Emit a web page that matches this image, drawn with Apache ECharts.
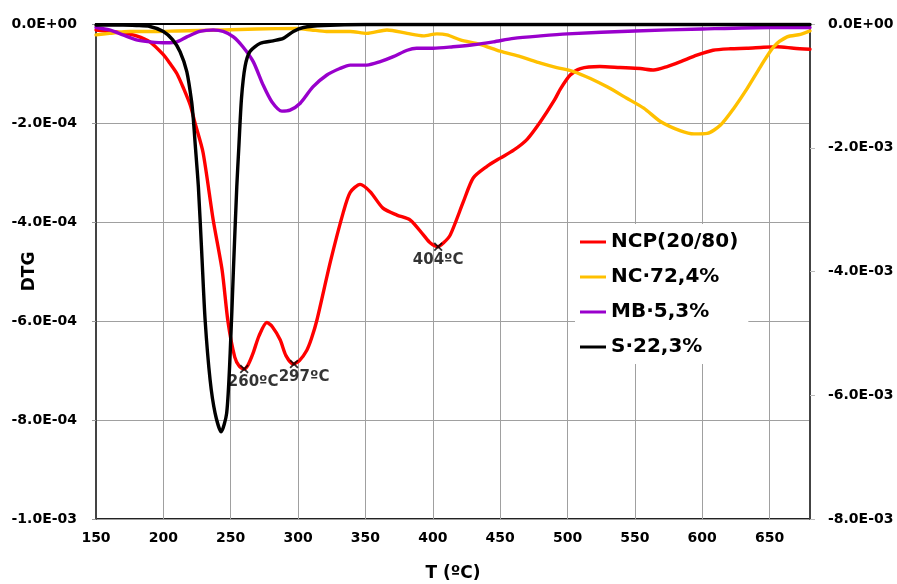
<!DOCTYPE html>
<html>
<head>
<meta charset="utf-8">
<script src="https://cdn.jsdelivr.net/npm/echarts@6/dist/echarts.min.js"></script>
<style>html,body{margin:0;padding:0;background:#fff;}#c{width:897px;height:584px;}</style>
</head>
<body>
<div id="c"></div>
<script>
// ---- data (T in ºC, DTG values) ----
var seriesNames = ['NCP(20/80)', 'NC·72,4%', 'MB·5,3%', 'S·22,3%'];

var ncpT = [150,160,170,180,190,200,205,210,215,220,223.5,229.5,237,243.6,248,253,256.5,260,263,266.6,271,276.8,281,286.7,291,296.4,301,306.5,310,314,324,333.6,338.7,346,353.6,363,373.4,383.3,393,398,403.6,408,413,422.7,430,440,450,460,470,480,490,495,502,509.6,524,539,554,564,574,584,596,608,621,633,645.6,655.7,668,680];
var ncpV = [-0.12e-4,-0.15e-4,-0.18e-4,-0.24e-4,-0.36e-4,-0.62e-4,-0.80e-4,-1.0e-4,-1.3e-4,-1.64e-4,-2.0e-4,-2.6e-4,-3.96e-4,-4.97e-4,-6.02e-4,-6.73e-4,-6.92e-4,-6.97e-4,-6.88e-4,-6.65e-4,-6.3e-4,-6.03e-4,-6.12e-4,-6.38e-4,-6.7e-4,-6.87e-4,-6.8e-4,-6.59e-4,-6.35e-4,-5.98e-4,-4.8e-4,-3.8e-4,-3.4e-4,-3.24e-4,-3.39e-4,-3.72e-4,-3.86e-4,-3.96e-4,-4.26e-4,-4.42e-4,-4.5e-4,-4.42e-4,-4.26e-4,-3.59e-4,-3.11e-4,-2.88e-4,-2.71e-4,-2.55e-4,-2.33e-4,-1.97e-4,-1.55e-4,-1.3e-4,-1.03e-4,-0.9e-4,-0.86e-4,-0.88e-4,-0.9e-4,-0.93e-4,-0.86e-4,-0.76e-4,-0.63e-4,-0.53e-4,-0.50e-4,-0.49e-4,-0.47e-4,-0.46e-4,-0.49e-4,-0.51e-4];

var ncT = [150,160,175,195,210,244,269,299,310,321,338.7,351,366,381,393,403,410.5,420.4,435,450,465,480,492,504.5,517,529.4,544,556.6,569,584,594,603.7,613.6,623.5,633.4,643.3,653,663,673,680];
var ncV = [-0.22e-4,-0.19e-4,-0.15e-4,-0.15e-4,-0.14e-4,-0.12e-4,-0.1e-4,-0.09e-4,-0.12e-4,-0.15e-4,-0.15e-4,-0.19e-4,-0.12e-4,-0.19e-4,-0.24e-4,-0.2e-4,-0.22e-4,-0.32e-4,-0.41e-4,-0.55e-4,-0.66e-4,-0.79e-4,-0.88e-4,-0.96e-4,-1.1e-4,-1.27e-4,-1.5e-4,-1.7e-4,-1.97e-4,-2.16e-4,-2.22e-4,-2.21e-4,-2.04e-4,-1.7e-4,-1.3e-4,-0.86e-4,-0.46e-4,-0.26e-4,-0.21e-4,-0.14e-4];

var mbT = [150,160,170,180,190,202.5,210,217.4,227,237,244.4,252,259,266.7,274,280.5,288,294,301.6,311,321.4,331,338.7,351,361,370.7,381,388,400.4,415,430,445,460,480,500,550,600,650,680];
var mbV = [-0.07e-4,-0.12e-4,-0.22e-4,-0.32e-4,-0.36e-4,-0.38e-4,-0.36e-4,-0.26e-4,-0.15e-4,-0.12e-4,-0.15e-4,-0.26e-4,-0.46e-4,-0.76e-4,-1.23e-4,-1.57e-4,-1.76e-4,-1.74e-4,-1.6e-4,-1.27e-4,-1.03e-4,-0.9e-4,-0.83e-4,-0.83e-4,-0.76e-4,-0.66e-4,-0.53e-4,-0.49e-4,-0.49e-4,-0.46e-4,-0.42e-4,-0.36e-4,-0.29e-4,-0.24e-4,-0.2e-4,-0.14e-4,-0.1e-4,-0.07e-4,-0.07e-4];

var sT = [150,170,180,190,200,207,212.4,217.4,221,222.3,223.5,226,228.5,231,234.7,238.4,242.9,247,249.6,252,254.5,256,258,260.7,264.4,272,281.5,289,296.5,304,318.7,350,400,500,600,680];
var sV = [-0.02e-4,-0.02e-4,-0.03e-4,-0.05e-4,-0.15e-4,-0.32e-4,-0.56e-4,-0.96e-4,-1.57e-4,-1.94e-4,-2.38e-4,-3.29e-4,-4.63e-4,-5.98e-4,-7.19e-4,-7.86e-4,-8.24e-4,-7.86e-4,-6.65e-4,-4.97e-4,-3.29e-4,-2.5e-4,-1.5e-4,-0.85e-4,-0.55e-4,-0.39e-4,-0.34e-4,-0.29e-4,-0.15e-4,-0.07e-4,-0.03e-4,-0.01e-4,-0.01e-4,-0.01e-4,-0.01e-4,-0.01e-4];

var peakT = [260, 297, 404];
var peakV = [-6.97e-4, -6.87e-4, -4.5e-4];
var peakLabels = ['260ºC', '297ºC', '404ºC'];

var xTicks = {min: 150, max: 680, interval: 50};
var yLeft = {min: -1e-3, max: 0, interval: 2e-4};
var yRight = {min: -8e-3, max: 0, interval: 2e-3};

// ---- helpers ----
function zip(a, b) { var r = []; for (var i = 0; i < a.length; i++) r.push([a[i], b[i]]); return r; }
function fmtE(v) {
  if (Math.abs(v) < 1e-12) return '0.0E+00';
  var s = v.toExponential(1).split('e');
  var e = parseInt(s[1], 10);
  var a = Math.abs(e);
  return s[0] + 'E' + (e < 0 ? '-' : '+') + (a < 10 ? '0' : '') + a;
}

var FONT = 'DejaVu Sans';
var chart = echarts.init(document.getElementById('c'), null, {renderer: 'canvas'});

var colors = ['#FF0000', '#FFC000', '#9900CC', '#000000'];
var lineData = [zip(ncpT, ncpV), zip(ncT, ncV), zip(mbT, mbV), zip(sT, sV)];

var series = [];
for (var i = 0; i < 4; i++) {
  series.push({
    name: seriesNames[i], type: 'line', data: lineData[i],
    yAxisIndex: 0, showSymbol: false, symbol: 'none',
    smooth: 0.25,
    lineStyle: {color: colors[i], width: 3.4, join: 'round', cap: 'round'},
    itemStyle: {color: colors[i]},
    z: 2 + i, animation: false
  });
}
var offsets = [[9, -1], [10, -1], [0, -1]];
var peakData = [];
for (var j = 0; j < peakT.length; j++) {
  peakData.push({value: [peakT[j], peakV[j]], label: {offset: offsets[j], formatter: peakLabels[j]}});
}
series.push({
  name: 'peaks', type: 'scatter', data: peakData, yAxisIndex: 0,
  symbol: 'path://M0,1.4L1.4,0L5,3.6L8.6,0L10,1.4L6.4,5L10,8.6L8.6,10L5,6.4L1.4,10L0,8.6L3.6,5Z',
  symbolSize: 9, itemStyle: {color: '#000'},
  label: {show: true, position: 'bottom', distance: 2, color: '#000', textBorderWidth: 0, fontFamily: FONT, fontWeight: 'bold', fontSize: 15},
  z: 10, animation: false, silent: true
});

chart.setOption({
  animation: false,
  backgroundColor: '#fff',
  grid: {left: 96, right: 87, top: 24, bottom: 65, outerBoundsMode: 'none', containLabel: false,
         show: true, borderColor: '#222', borderWidth: 2, backgroundColor: 'transparent'},
  legend: {
    data: seriesNames, orient: 'vertical', left: 575, top: 224,
    backgroundColor: '#fff', padding: [8, 10, 7, 5], itemGap: 15,
    icon: 'rect', itemWidth: 26, itemHeight: 3,
    textStyle: {fontFamily: FONT, fontWeight: 'bold', fontSize: 20, color: '#000'},
    selectedMode: false
  },
  xAxis: {
    type: 'value', min: xTicks.min, max: xTicks.max, interval: xTicks.interval,
    name: 'T (ºC)', nameLocation: 'middle', nameGap: 46, nameMoveOverlap: false,
    nameTextStyle: {fontFamily: FONT, fontWeight: 'bold', fontSize: 17, color: '#000'},
    axisLine: {show: true, lineStyle: {color: '#000', width: 2}},
    axisTick: {show: false},
    axisLabel: {fontFamily: FONT, fontWeight: 'bold', fontSize: 14, color: '#000', margin: 12, showMaxLabel: false},
    splitLine: {show: true, lineStyle: {color: '#a0a0a0', width: 1}}
  },
  yAxis: [{
    type: 'value', min: yLeft.min, max: yLeft.max, interval: yLeft.interval, position: 'left',
    name: 'DTG', nameLocation: 'middle', nameGap: 66, nameRotate: 90, nameMoveOverlap: false,
    nameTextStyle: {fontFamily: FONT, fontWeight: 'bold', fontSize: 17, color: '#000', verticalAlign: 'middle'},
    axisLine: {show: true, lineStyle: {color: '#444', width: 2}},
    axisTick: {show: true, length: 4, lineStyle: {color: '#999'}},
    axisLabel: {fontFamily: FONT, fontWeight: 'bold', fontSize: 14, color: '#000', margin: 19, formatter: fmtE},
    splitLine: {show: true, lineStyle: {color: '#a0a0a0', width: 1}}
  }, {
    type: 'value', min: yRight.min, max: yRight.max, interval: yRight.interval, position: 'right',
    axisLine: {show: true, lineStyle: {color: '#444', width: 2}},
    axisTick: {show: true, length: 5, lineStyle: {color: '#bbb'}},
    axisLabel: {fontFamily: FONT, fontWeight: 'bold', fontSize: 14, color: '#000', margin: 18, formatter: fmtE},
    splitLine: {show: false}
  }],
  series: series
});
</script>
</body>
</html>
